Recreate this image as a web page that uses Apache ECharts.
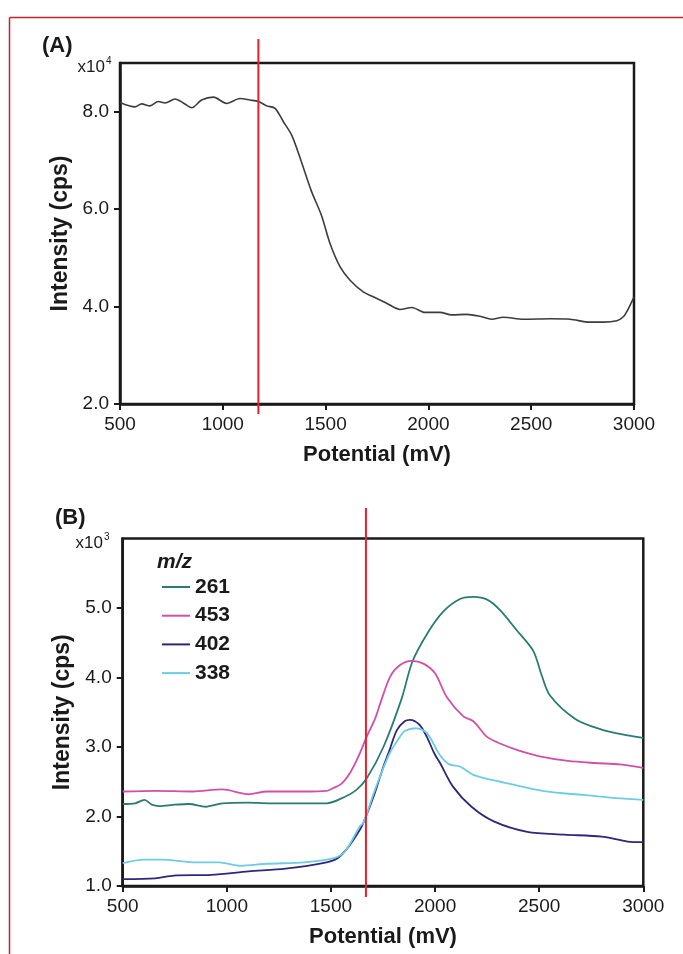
<!DOCTYPE html>
<html><head><meta charset="utf-8">
<script src="https://cdn.jsdelivr.net/npm/echarts@6/dist/echarts.min.js"></script>
<style>html,body{margin:0;padding:0;background:#fff}#c{width:683px;height:954px}</style>
</head><body><div id="c"></div><script>
// ---- Panel A data (Intensity x10^4 vs Potential mV)
var aPotential = [500,573,605,646,686,719,768,808,849,897,954,1019,1084,1132,1173,1213,1254,1294,1335,1376,1430,1480,1521,1570,1619,1683,1732,1797,1862,1919,1984,2056,2113,2186,2251,2308,2364,2462,2592,2689,2786,2851,2916,2948,2973,3000];
var aIntensity = [8.19,8.10,8.16,8.12,8.21,8.18,8.26,8.18,8.08,8.24,8.30,8.17,8.27,8.24,8.21,8.12,8.07,7.80,7.52,7.05,6.38,5.87,5.30,4.82,4.54,4.30,4.20,4.07,3.94,3.98,3.88,3.88,3.83,3.84,3.80,3.74,3.78,3.74,3.75,3.74,3.68,3.68,3.71,3.79,3.96,4.20];
var aMarker = 1173;

// ---- Panel B data (Intensity x10^3 vs Potential mV)
var bNames = ['261','453','402','338'];
var x261 = [500,560,604,640,675,750,818,898,979,1104,1200,1282,1400,1479,1550,1621,1672,1752,1840,1890,1960,2040,2120,2184,2250,2312,2392,2472,2510,2552,2675,2800,2900,3000];
var y261 = [2.18,2.19,2.24,2.17,2.15,2.17,2.18,2.14,2.19,2.20,2.19,2.19,2.19,2.19,2.26,2.38,2.55,3.00,3.70,4.22,4.62,4.95,5.13,5.16,5.12,4.97,4.68,4.38,4.05,3.74,3.40,3.25,3.18,3.13];
var x453 = [500,657,836,979,1104,1193,1371,1479,1512,1550,1592,1630,1672,1711,1736,1784,1832,1888,1944,2000,2056,2136,2184,2248,2312,2400,2496,2639,2764,2889,3000];
var y453 = [2.36,2.37,2.36,2.39,2.32,2.36,2.36,2.37,2.41,2.47,2.63,2.85,3.15,3.40,3.62,4.01,4.18,4.24,4.20,4.06,3.72,3.44,3.37,3.15,3.05,2.95,2.87,2.80,2.77,2.75,2.70];
var x402 = [500,657,746,925,1104,1282,1461,1532,1586,1639,1656,1711,1752,1782,1816,1854,1880,1925,1960,1996,2024,2086,2175,2282,2443,2621,2800,2925,3000];
var y402 = [1.10,1.11,1.15,1.16,1.21,1.25,1.33,1.40,1.57,1.81,1.91,2.34,2.72,2.96,3.24,3.37,3.39,3.32,3.15,2.91,2.77,2.43,2.14,1.93,1.78,1.74,1.71,1.64,1.63];
var x338 = [500,604,693,836,961,1068,1193,1371,1514,1568,1639,1656,1711,1782,1832,1854,1907,1961,2024,2068,2120,2184,2312,2532,2711,2889,3000];
var y338 = [1.33,1.38,1.38,1.34,1.34,1.29,1.32,1.34,1.40,1.50,1.86,1.91,2.38,2.91,3.15,3.23,3.27,3.20,2.88,2.75,2.72,2.60,2.50,2.36,2.31,2.26,2.24];
var bMarker = 1668;

var xTicks = [500,1000,1500,2000,2500,3000];
var aYTicks = [2,4,6,8];
var bYTicks = [1,2,3,4,5];

function zip(xs, ys){ return xs.map(function(x,i){ return [x, ys[i]]; }); }

var FONT = "'Liberation Sans', Arial, Helvetica, sans-serif";
var INK = '#1a1a1a';
var colors = {'261':'#2b7b75','453':'#d24fa7','402':'#2e287c','338':'#6ccde2'};
var bX = {'261':x261,'453':x453,'402':x402,'338':x338};
var bY = {'261':y261,'453':y453,'402':y402,'338':y338};

function xAxisCfg(gi){
  return {
    gridIndex: gi, type:'value', min:500, max:3000, interval:500,
    axisLine:{show:true, lineStyle:{color:INK, width:2.5}},
    axisTick:{show:true, length:6, lineStyle:{color:INK, width:2}, customValues: xTicks},
    axisLabel:{fontFamily:FONT, fontSize:19, color:INK, margin:11, customValues: xTicks,
      formatter:function(v){ return String(v); }},
    splitLine:{show:false},
    name:'Potential (mV)', nameLocation:'middle', nameGap:40,
    nameTextStyle:{fontFamily:FONT, fontSize:22, fontWeight:'bold', color:INK}
  };
}
function yAxisCfg(gi, min, max, ticks, gap){
  return {
    gridIndex: gi, type:'value', min:min, max:max, interval:1,
    axisLine:{show:true, lineStyle:{color:INK, width:2.5}},
    axisTick:{show:true, length:6, lineStyle:{color:INK, width:2}, customValues: ticks},
    axisLabel:{fontFamily:FONT, fontSize:19, color:INK, margin:11, customValues: ticks,
      formatter:function(v){ return v.toFixed(1); }},
    splitLine:{show:false},
    name:'Intensity (cps)', nameLocation:'middle', nameGap:gap,
    nameTextStyle:{fontFamily:FONT, fontSize:23, fontWeight:'bold', color:INK}
  };
}

var series = [{
  type:'line', xAxisIndex:0, yAxisIndex:0, data: zip(aPotential, aIntensity),
  showSymbol:false, symbol:'none', smooth:0.3,
  lineStyle:{color:'#3c3c3c', width:1.6}, itemStyle:{color:'#3c3c3c'}
}];
bNames.forEach(function(n){
  series.push({
    name:n, type:'line', xAxisIndex:1, yAxisIndex:1, data: zip(bX[n], bY[n]),
    showSymbol:false, symbol:'none', smooth:0.3,
    lineStyle:{color:colors[n], width:1.8}, itemStyle:{color:colors[n]}
  });
});

var chart = echarts.init(document.getElementById('c'), null, {renderer:'canvas'});
chart.setOption({
  animation:false,
  backgroundColor:'#ffffff',
  grid:[
    {left:120, top:63, width:514, height:341, show:true, borderColor:INK, borderWidth:2.5, backgroundColor:'transparent', containLabel:false},
    {left:122.7, top:538.5, width:520.6, height:347.5, show:true, borderColor:INK, borderWidth:2.5, backgroundColor:'transparent', containLabel:false}
  ],
  xAxis:[xAxisCfg(0), xAxisCfg(1)],
  yAxis:[yAxisCfg(0, 2, 9, aYTicks, 46), yAxisCfg(1, 1, 6, bYTicks, 49)],
  legend:{
    data: bNames, orient:'vertical', left:162, top:576.5, padding:0,
    icon:'rect', itemWidth:28, itemHeight:2, itemGap:7.7, selectedMode:false,
    textStyle:{fontFamily:FONT, fontSize:21, fontWeight:'bold', color:INK, lineHeight:21}
  },
  series: series
});

var ax = chart.convertToPixel({xAxisIndex:0}, aMarker);
var bx = chart.convertToPixel({xAxisIndex:1}, bMarker);
var RED = '#e8202a';
var FRAME = '#c9202c';

chart.setOption({
  graphic:[
    {type:'line', shape:{x1:9.5, y1:17.5, x2:683, y2:17.5}, style:{stroke:FRAME, lineWidth:1.5}, silent:true},
    {type:'line', shape:{x1:9.5, y1:17.5, x2:9.5, y2:954}, style:{stroke:FRAME, lineWidth:1.5}, silent:true},
    {type:'line', shape:{x1:ax, y1:39, x2:ax, y2:414}, style:{stroke:RED, lineWidth:2}, z:100, silent:true},
    {type:'line', shape:{x1:bx, y1:508, x2:bx, y2:897}, style:{stroke:RED, lineWidth:2}, z:100, silent:true},
    {type:'text', left:42, top:35, style:{text:'(A)', fontFamily:FONT, fontSize:22, fontWeight:'bold', fill:INK}},
    {type:'text', left:55, top:507, style:{text:'(B)', fontFamily:FONT, fontSize:22, fontWeight:'bold', fill:INK}},
    {type:'text', x:105, y:67, style:{text:'x10', fontFamily:FONT, fontSize:17, fill:INK, align:'right', verticalAlign:'middle'}},
    {type:'text', x:106, y:61, style:{text:'4', fontFamily:FONT, fontSize:10, fill:INK, align:'left', verticalAlign:'middle'}},
    {type:'text', x:103, y:543, style:{text:'x10', fontFamily:FONT, fontSize:17, fill:INK, align:'right', verticalAlign:'middle'}},
    {type:'text', x:104, y:537, style:{text:'3', fontFamily:FONT, fontSize:10, fill:INK, align:'left', verticalAlign:'middle'}},
    {type:'text', x:157, y:562, style:{text:'m/z', fontFamily:FONT, fontSize:21, fontWeight:'bold', fontStyle:'italic', fill:INK, align:'left', verticalAlign:'middle'}}
  ]
});
</script></body></html>
